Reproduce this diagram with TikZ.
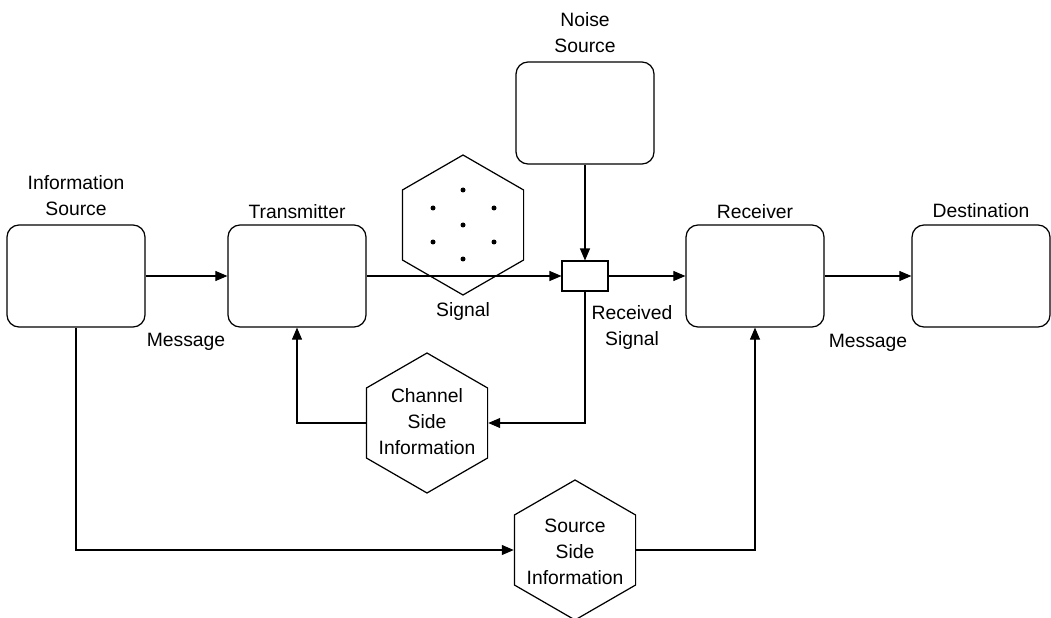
\documentclass[tikz,border=0pt]{standalone}
\usepackage{fontspec}
\setmainfont{Liberation Sans}
\usetikzlibrary{arrows.meta,shapes.geometric}

\tikzset{
  block/.style={draw, rounded corners=0.24cm, minimum width=2.76cm, minimum height=2.04cm, line width=0.7pt},
  hexa/.style={draw, regular polygon, regular polygon sides=6, shape border rotate=30, minimum size=2.8cm, inner sep=0pt, line width=0.7pt},
  adder/.style={draw, minimum width=0.92cm, minimum height=0.6cm, inner sep=0pt, line width=0.6pt},
  flow/.style={-{Triangle[length=0.24cm,width=0.2cm]}, line width=0.6pt},
  txt/.style={align=center, inner sep=0pt, font=\fontsize{11}{14.8}\selectfont},
}

\begin{document}
\begin{tikzpicture}[x=0.02cm, y=-0.02cm]
\useasboundingbox (0,0) rectangle (1051,618);

% blocks
\node[block] (src)   at (76,276)  {};
\node[block] (tx)    at (297,276) {};
\node[block] (noise) at (585,113) {};
\node[block] (rx)    at (755,276) {};
\node[block] (dst)   at (981,276) {};
\node[adder] (sum)   at (585,276) {};

% hexagons
\node[hexa] (sig) at (463,225) {};
\node[hexa] (csi) at (427,423) {};
\node[hexa] (ssi) at (575,550) {};

% signal constellation
\foreach \p in {(463,190),(433,208),(494,208),(463,225),(433,242),(494,242),(463,259)}
  \fill \p circle (0.05cm);

% labels
\node[txt] (srclabel)   at (76,196)  {Information\\Source};
\node[txt] (txlabel)    at (297,212) {Transmitter};
\node[txt] (noiselabel) at (585,33)  {Noise\\Source};
\node[txt] (rxlabel)    at (755,212) {Receiver};
\node[txt] (dstlabel)   at (981,211) {Destination};
\node[txt] (siglabel)   at (463,312) {Signal};
\node[txt] (msgleft)    at (186,342) {Message};
\node[txt] (rcvlabel)   at (632,328) {Received\\Signal};
\node[txt] (msgright)   at (868,343) {Message};
\node[txt] (csilabel)   at (427,422) {Channel\\Side\\Information};
\node[txt] (ssilabel)   at (575,552) {Source\\Side\\Information};

% connectors
\draw[flow] (src) -- (tx);
\draw[flow] (tx) -- (sum);
\draw[flow] (noise) -- (sum);
\draw[flow] (sum) -- (rx);
\draw[flow] (rx) -- (dst);
\draw[flow] (sum.south) |- (csi.east);
\draw[flow] (csi.west) -| (tx.south);
\draw[flow] (src.south) |- (ssi.west);
\draw[flow] (ssi.east) -| (rx.south);

\end{tikzpicture}
\end{document}
